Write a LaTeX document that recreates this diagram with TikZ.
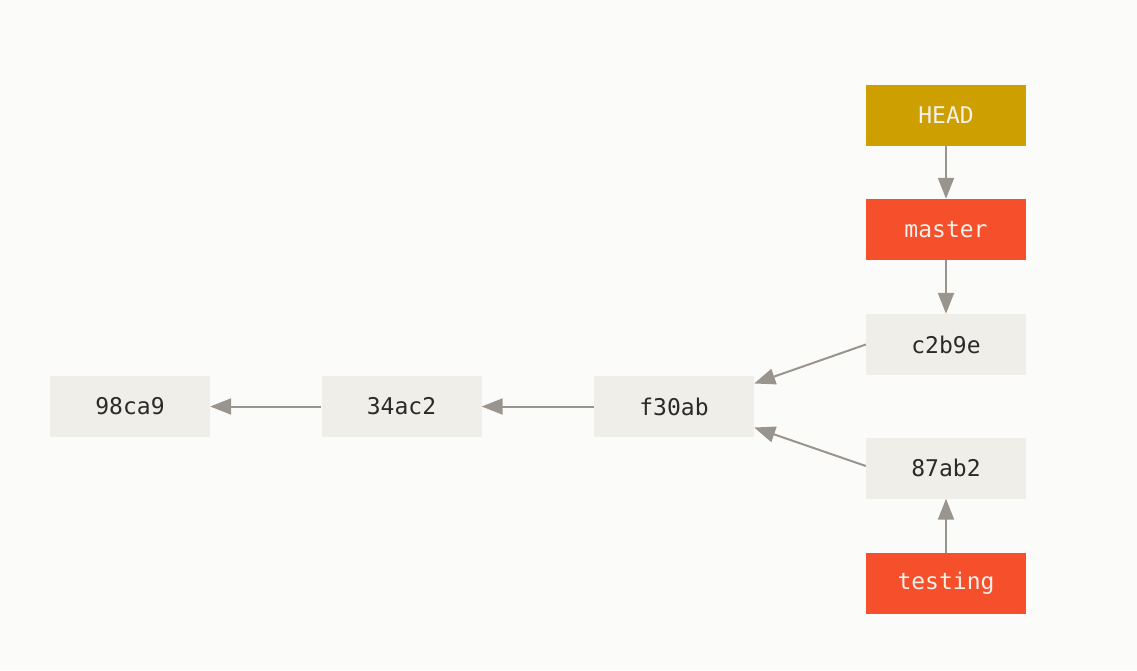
\documentclass[tikz,border=0pt]{standalone}
\usepackage{fontspec}
\setmonofont{DejaVu Sans Mono}
\usetikzlibrary{arrows.meta}
\definecolor{bgcol}{HTML}{FBFBF9}
\definecolor{commitfill}{HTML}{EFEEE8}
\definecolor{headfill}{HTML}{CE9F00}
\definecolor{branchfill}{HTML}{F64F2B}
\definecolor{arrowcol}{HTML}{9A948E}
\definecolor{darktext}{HTML}{2A2A2A}
\definecolor{lighttext}{HTML}{F3F1EA}
\tikzset{
  box/.style={minimum width=160pt, minimum height=61pt, inner sep=0pt,
    font=\ttfamily\fontsize{23}{27}\selectfont},
  commit/.style={box, fill=commitfill, text=darktext},
  headref/.style={box, fill=headfill, text=lighttext},
  branch/.style={box, fill=branchfill, text=lighttext},
  link/.style={draw=arrowcol, line width=2pt,
    -{Triangle[length=21pt,width=16pt]}}
}
\begin{document}
\begin{tikzpicture}[x=1pt,y=-1pt]
  \fill[bgcol] (0,0) rectangle (1137,670);
  \useasboundingbox (0,0) rectangle (1137,670);

  % commits
  \node[commit] (c98ca9) at (130,406.5) {98ca9};
  \node[commit] (c34ac2) at (401.5,406.5) {34ac2};
  \node[commit] (cf30ab) at (674,406.5) {f30ab};
  \node[commit] (cc2b9e) at (946,344.5) {c2b9e};
  \node[commit] (c87ab2) at (946,468) {87ab2};

  % references
  \node[headref] (head) at (946,115.5) {HEAD};
  \node[branch] (master) at (946,229.5) {master};
  \node[branch] (testing) at (946,583.5) {testing};

  % parent links
  \draw[link] (c34ac2.west) -- (c98ca9.east);
  \draw[link] (cf30ab.west) -- (c34ac2.east);
  \draw[link] (cc2b9e.west) -- ([yshift=23pt]cf30ab.east);
  \draw[link] ([yshift=2pt]c87ab2.west) -- ([yshift=-21pt]cf30ab.east);

  % reference pointers
  \draw[link] (head.south) -- (master.north);
  \draw[link] (master.south) -- (cc2b9e.north);
  \draw[link] (testing.north) -- (c87ab2.south);
\end{tikzpicture}
\end{document}
